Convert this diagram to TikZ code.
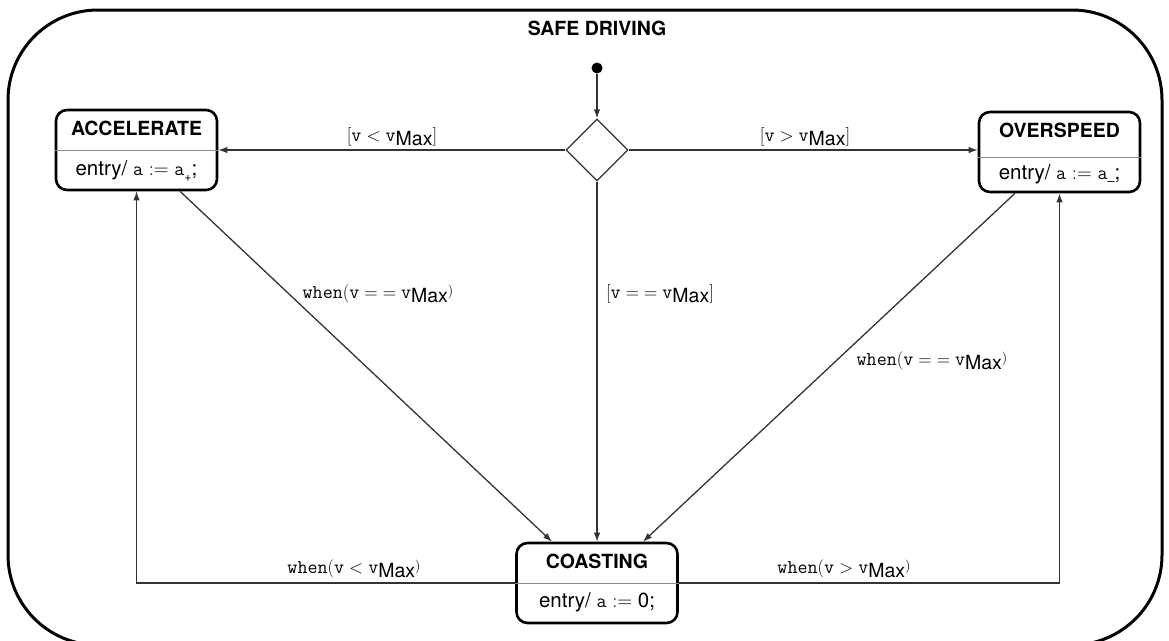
\documentclass[tikz,border=0pt]{standalone}
\usepackage{fontspec}
\setmainfont{TeX Gyre Heros}
\usetikzlibrary{arrows.meta,shapes.geometric,calc}

% Latin Modern roman for brackets and relations
\newcommand\cmr{\fontfamily{lmr}\selectfont}
\newcommand\ttsz{\fontsize{19.5}{21}\selectfont\ttfamily}
% relation glyph and the gap around relations
\newcommand\gap{\hspace{5pt}}
\newcommand\rel[1]{{\cmr #1}}
% v with lowered sans subscript Max
\newcommand\vM{{\ttsz v}\raisebox{-0.45ex}{\fontsize{19.5}{21}\selectfont Max}}
\newcommand\smallclose{\raisebox{0.35ex}{\cmr\fontsize{14}{14}\selectfont )}}
\newcommand\lowsub[1]{\raisebox{-0.55ex}{\fontsize{12.5}{13}\selectfont #1}}

\tikzset{
  frame/.style={draw=black, line width=3pt, rounded corners=90pt},
  statebox/.style={draw=black, line width=2.6pt, rounded corners=11pt,
    minimum width=161pt, minimum height=80pt, inner sep=0pt},
  stitle/.style={font=\fontsize{19.5}{21}\selectfont\bfseries, inner sep=0pt},
  sentry/.style={font=\fontsize{20.5}{22}\selectfont, inner sep=0pt},
  divider/.style={draw=black!45, line width=0.9pt},
  conn/.style={draw=black!80, line width=1.3pt, -{Latex[length=9pt,width=6.5pt]}},
  lbl/.style={font=\fontsize{18.5}{20}\selectfont, inner sep=0pt},
  choice/.style={diamond, draw=black!80, line width=1.3pt, minimum width=62pt,
    minimum height=62pt, inner sep=0pt},
}

\begin{document}
\begin{tikzpicture}[x=1pt, y=-1pt]
\useasboundingbox (0,0) rectangle (1169,640);

% enclosing composite state
\draw[frame] (8,10) rectangle (1162,645);
\node[font=\fontsize{19.5}{21}\selectfont\bfseries] (title) at (597,28) {SAFE DRIVING};

% initial pseudostate and choice
\node[circle, fill=black, inner sep=0pt, minimum size=11pt] (init) at (597,68) {};
\node[choice] (dia) at (597,150) {};

% states
\node[statebox] (acc) at (136.5,150) {};
\node[stitle] (accT) at (136.5,128) {ACCELERATE};
\node[sentry] (accE) at (136.5,171) {entry/ {\ttsz a} {\cmr:=} {\ttsz a}\lowsub{+};};
\draw[divider] (acc.west) -- (acc.east);

\node[statebox] (ovs) at (1059.5,152) {};
\node[stitle] (ovsT) at (1059.5,130) {OVERSPEED};
\node[sentry] (ovsE) at (1059.5,175) {entry/ {\ttsz a} {\cmr:=} {\ttsz a}\lowsub{--};};
\draw[divider] ($(ovs.west)+(0,5)$) -- ($(ovs.east)+(0,5)$);

\node[statebox] (cst) at (597,583) {};
\node[stitle] (cstT) at (597,561) {COASTING};
\node[sentry] (cstE) at (597,602) {entry/ {\ttsz a} {\cmr:=} 0;};
\draw[divider] (cst.west) -- (cst.east);

% transitions
\draw[conn] (init) -- (dia.north);
\draw[conn] (dia.west) -- (acc.east);
\draw[conn] (dia.east) -- (dia.east -| ovs.west);
\draw[conn] (dia.south) -- (cst.north);
\draw[conn] ($(acc.south)+(43.5,0)$) -- ($(cst.north)+(-45,0)$);
\draw[conn] ($(ovs.south)+(-44.5,0)$) -- ($(cst.north)+(46,0)$);
\draw[conn] (cst.west) -| (acc.south);
\draw[conn] (cst.east) -| (ovs.south);

% guards and triggers
\node[lbl] (g1) at (392,137) {{\cmr[}{\ttsz v}\gap\rel{<}\gap\vM{\cmr]}};
\node[lbl] (g2) at (805,137) {{\cmr[}{\ttsz v}\gap\rel{>}\gap\vM{\cmr]}};
\node[lbl] (g3) at (660,294) {{\cmr[}{\ttsz v}\gap\rel{=}\gap\rel{=}\gap\vM{\cmr]}};
\node[lbl] (t1) at (378,294) {{\ttsz when}{\cmr(}{\ttsz v}\gap\rel{=}\gap\rel{=}\gap\vM\smallclose};
\node[lbl] (t2) at (932,361) {{\ttsz when}{\cmr(}{\ttsz v}\gap\rel{=}\gap\rel{=}\gap\vM\smallclose};
\node[lbl] (t3) at (354,569) {{\ttsz when}{\cmr(}{\ttsz v}\gap\rel{<}\gap\vM\smallclose};
\node[lbl] (t4) at (844,569) {{\ttsz when}{\cmr(}{\ttsz v}\gap\rel{>}\gap\vM\smallclose};
\end{tikzpicture}
\end{document}
